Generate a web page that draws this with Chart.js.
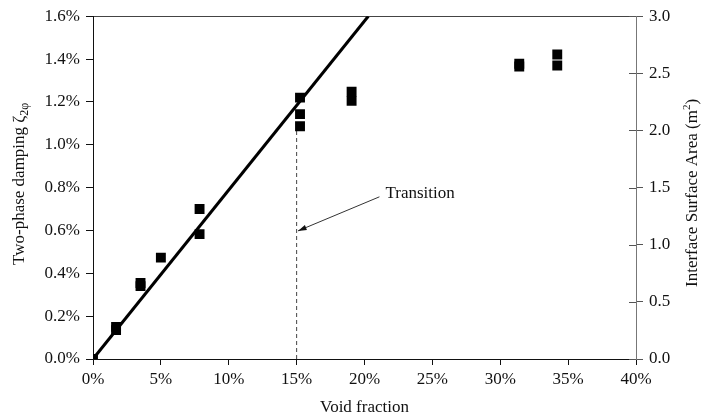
<!DOCTYPE html>
<html>
<head>
<meta charset="utf-8">
<script src="https://cdn.jsdelivr.net/npm/chart.js@4.4.1/dist/chart.umd.min.js"></script>
<style>
  html, body { margin: 0; padding: 0; background: #fff; }
  #wrap { width: 702px; height: 418px; }
</style>
</head>
<body>
<div id="wrap"><canvas id="canvas"></canvas></div>
<script>
// measured points: void fraction (%) vs two-phase damping (%)
const voidFraction = [0, 1.7, 1.7, 3.5, 3.5, 5.0, 7.85, 7.85, 15.25, 15.25, 15.25, 19.05, 19.05, 31.4, 31.4, 34.2, 34.2];
const damping      = [0, 0.15, 0.135, 0.355, 0.34, 0.473, 0.70, 0.583, 1.22, 1.143, 1.086, 1.248, 1.205, 1.378, 1.365, 1.421, 1.37];

// linear trend through the low void-fraction points
const fitX = [0, 20.28];
const fitY = [0, 1.6];

// vertical marker at the transition
const transitionX = [15, 15];
const transitionY = [0, 1.07];

// arrow: tail -> head, plus its label
const arrowX = [21.1, 15.1];
const arrowY = [0.757, 0.598];
const arrowText = 'Transition';

const xTicks = [0, 5, 10, 15, 20, 25, 30, 35, 40];

const serif = "'Liberation Serif', 'Times New Roman', serif";
const ink = '#111';
const fontSize = 17;

function pts(xs, ys) {
  return xs.map((x, i) => ({x: x, y: ys[i]}));
}

// small ticks on the inner side of the right axis
const innerTicks = {
  id: 'innerTicks',
  afterDraw(chart) {
    const s = chart.scales.y2;
    const ctx = chart.ctx;
    ctx.save();
    ctx.strokeStyle = '#555';
    ctx.lineWidth = 1;
    s.ticks.forEach(t => {
      const py = Math.round(s.getPixelForValue(t.value)) + 0.5;
      ctx.beginPath();
      ctx.moveTo(s.left - 7, py);
      ctx.lineTo(s.left, py);
      ctx.stroke();
    });
    ctx.restore();
  }
};

// arrow with its label
const arrowLabel = {
  id: 'arrowLabel',
  afterDatasetsDraw(chart) {
    const xs = chart.scales.x, ys = chart.scales.y;
    const ctx = chart.ctx;
    const x0 = xs.getPixelForValue(arrowX[0]), y0 = ys.getPixelForValue(arrowY[0]);
    const x1 = xs.getPixelForValue(arrowX[1]), y1 = ys.getPixelForValue(arrowY[1]);
    const ang = Math.atan2(y1 - y0, x1 - x0);
    ctx.save();
    ctx.strokeStyle = '#333';
    ctx.fillStyle = '#111';
    ctx.lineWidth = 1;
    ctx.beginPath();
    ctx.moveTo(x0, y0);
    ctx.lineTo(x1, y1);
    ctx.stroke();
    ctx.beginPath();
    ctx.moveTo(x1, y1);
    ctx.lineTo(x1 - 9 * Math.cos(ang - 0.3), y1 - 9 * Math.sin(ang - 0.3));
    ctx.lineTo(x1 - 9 * Math.cos(ang + 0.3), y1 - 9 * Math.sin(ang + 0.3));
    ctx.closePath();
    ctx.fill();
    ctx.font = fontSize + 'px ' + serif;
    ctx.textBaseline = 'middle';
    ctx.fillText(arrowText, x0 + 6, y0 - 3);
    ctx.restore();
  }
};

// vertical axis titles, both reading bottom-to-top, with sub/superscripts
function drawRotated(ctx, x, y, parts) {
  ctx.save();
  ctx.translate(x, y);
  ctx.rotate(-Math.PI / 2);
  ctx.textBaseline = 'middle';
  ctx.fillStyle = ink;
  let cx = 0;
  parts.forEach(p => {
    ctx.font = p.size + 'px ' + serif;
    ctx.fillText(p.text, cx, p.shift || 0);
    cx += ctx.measureText(p.text).width;
  });
  ctx.restore();
}

const axisTitles = {
  id: 'axisTitles',
  afterDraw(chart) {
    const ctx = chart.ctx;
    const a = chart.chartArea;
    drawRotated(ctx, 20, a.bottom - 94, [
      {text: 'Two-phase damping \u03B6', size: fontSize},
      {text: '2\u03C6', size: 12, shift: 5}
    ]);
    drawRotated(ctx, 693, a.bottom - 72, [
      {text: 'Interface Surface Area (m', size: fontSize},
      {text: '2', size: 11, shift: -6},
      {text: ')', size: fontSize}
    ]);
  }
};

window.onload = () => {
  const ctx = document.getElementById('canvas').getContext('2d');
  window.myChart = new Chart(ctx, {
    type: 'scatter',
    data: {
      datasets: [{
        label: 'Damping',
        data: pts(voidFraction, damping),
        pointStyle: 'rect',
        pointRadius: 7,
        backgroundColor: '#000',
        borderColor: '#000',
        borderWidth: 0,
        order: 1
      }, {
        label: 'Fit',
        type: 'line',
        data: pts(fitX, fitY),
        borderColor: '#000',
        borderWidth: 3,
        pointRadius: 0,
        order: 2
      }, {
        label: 'Transition',
        type: 'line',
        data: pts(transitionX, transitionY),
        borderColor: '#444',
        borderWidth: 1,
        borderDash: [4, 3],
        pointRadius: 0,
        order: 3
      }]
    },
    options: {
      responsive: true,
      maintainAspectRatio: false,
      animation: false,
      layout: { padding: { top: 15, left: 0, right: 0, bottom: 0 } },
      plugins: {
        legend: { display: false },
        tooltip: { enabled: false }
      },
      scales: {
        x: {
          type: 'linear',
          min: 0, max: 40,
          afterBuildTicks: s => { s.ticks = xTicks.map(v => ({value: v})); },
          afterFit: s => { s.height = 59; },
          grid: { drawOnChartArea: false, drawTicks: true, tickLength: 6, color: ink },
          border: { display: true, color: ink, width: 1 },
          ticks: {
            color: ink, padding: 4,
            font: { family: serif, size: fontSize },
            callback: v => v + '%'
          },
          title: {
            display: true, text: 'Void fraction', color: ink,
            font: { family: serif, size: fontSize }, padding: { top: 0, bottom: 0 }
          }
        },
        xTop: {
          type: 'linear', position: 'top',
          min: 0, max: 40,
          afterFit: s => { s.height = 0; },
          grid: { display: false },
          border: { display: true, color: '#444', width: 1 },
          ticks: { display: false }
        },
        y: {
          type: 'linear', position: 'left',
          min: 0, max: 1.6,
          afterFit: s => { s.width = 93; },
          grid: { drawOnChartArea: false, drawTicks: true, tickLength: 7, color: ink },
          border: { display: true, color: ink, width: 1 },
          ticks: {
            stepSize: 0.2, color: ink, padding: 6,
            font: { family: serif, size: fontSize },
            callback: v => v.toFixed(1) + '%'
          }
        },
        y2: {
          type: 'linear', position: 'right',
          min: 0, max: 3.0,
          afterFit: s => { s.width = 66; },
          grid: { drawOnChartArea: false, drawTicks: true, tickLength: 7, color: '#555' },
          border: { display: true, color: '#777', width: 1 },
          ticks: {
            stepSize: 0.5, color: ink, padding: 6,
            font: { family: serif, size: fontSize },
            callback: v => v.toFixed(1)
          }
        }
      }
    },
    plugins: [innerTicks, arrowLabel, axisTitles]
  });
};
</script>
</body>
</html>
